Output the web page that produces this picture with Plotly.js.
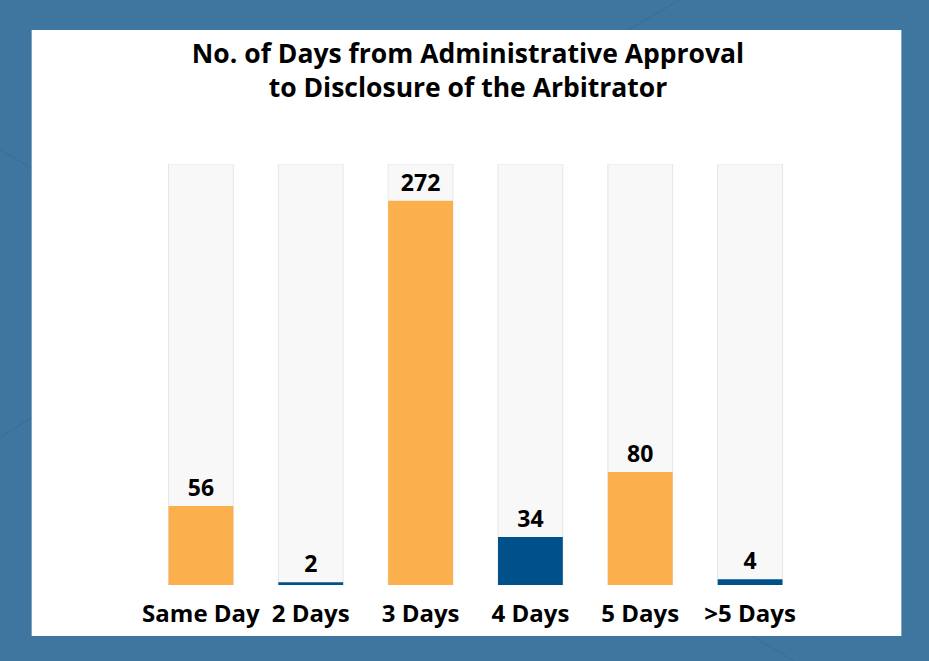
<!DOCTYPE html>
<html>
<head>
<meta charset="utf-8">
<script src="https://cdn.plot.ly/plotly-3.0.1.min.js"></script>
<style>html,body{margin:0;padding:0;background:#3f76a0;}#chart{width:929px;height:661px;}</style>
</head>
<body>
<div id="chart"></div>
<script>
const categories = ["Same Day", "2 Days", "3 Days", "4 Days", "5 Days", ">5 Days"];
const counts = [56, 2, 272, 34, 80, 4];
const barColors = ["#fbaf4d", "#00518a", "#fbaf4d", "#00518a", "#fbaf4d", "#00518a"];
const backgroundMax = 298;
const titleText = "No. of Days from Administrative Approval<br>to Disclosure of the Arbitrator";

// layout geometry (pixels)
const W = 929, H = 661;
const plotL = 145.5, plotR = 805.5, plotT = 164, plotB = 585;
const px2x = p => (p - plotL) / (plotR - plotL);
const px2y = p => (plotB - p) / (plotB - plotT);

const font = "'Open Sans', 'Noto Sans', sans-serif";

const bgTrace = {
  type: "bar",
  x: categories,
  y: categories.map(() => backgroundMax),
  marker: {color: "#f8f8f8", line: {color: "#e6e6e6", width: 1}},
  width: 0.59,
  hoverinfo: "skip",
  showlegend: false
};
const dataTrace = {
  type: "bar",
  x: categories,
  y: counts,
  marker: {color: barColors, line: {width: 0}},
  width: 0.59,
  text: counts.map(String),
  textposition: "outside",
  textfont: {family: font, size: 23, color: "#000", weight: "bold"},
  cliponaxis: false,
  showlegend: false
};

const deco = [[0,150,60,185],[0,437,60,400],[628,30,680,0],[752,636,795,661]];
const shapes = deco.map(d => ({
  type: "line", xref: "paper", yref: "paper", layer: "below",
  x0: px2x(d[0]), y0: px2y(d[1]), x1: px2x(d[2]), y1: px2y(d[3]),
  line: {color: "#3a6c95", width: 1}
}));
shapes.push({
  type: "rect", xref: "paper", yref: "paper", layer: "below",
  x0: px2x(31), x1: px2x(902), y0: px2y(636), y1: px2y(30),
  fillcolor: "#ffffff", line: {width: 0}
});

const layout = {
  width: W, height: H,
  paper_bgcolor: "#3f76a0",
  plot_bgcolor: "rgba(0,0,0,0)",
  margin: {l: plotL, r: W - plotR, t: plotT, b: H - plotB, pad: 0},
  barmode: "overlay",
  title: {
    text: titleText,
    font: {family: font, size: 26.5, color: "#000", weight: "bold"},
    x: 468 / W, xanchor: "center", xref: "container",
    y: 1 - 63 / H, yanchor: "top", yref: "container"
  },
  xaxis: {
    type: "category", range: [-0.5, 5.5], fixedrange: true,
    showgrid: false, zeroline: false, showline: false, ticks: "",
    ticklabelstandoff: 12,
    tickfont: {family: font, size: 24, color: "#000", weight: "bold"}
  },
  yaxis: {
    range: [0, backgroundMax], autorange: false, visible: false, showgrid: false, zeroline: false
  },
  shapes: shapes,
  font: {family: font}
};

Plotly.newPlot("chart", [bgTrace, dataTrace], layout, {displayModeBar: false, staticPlot: true});
</script>
</body>
</html>
